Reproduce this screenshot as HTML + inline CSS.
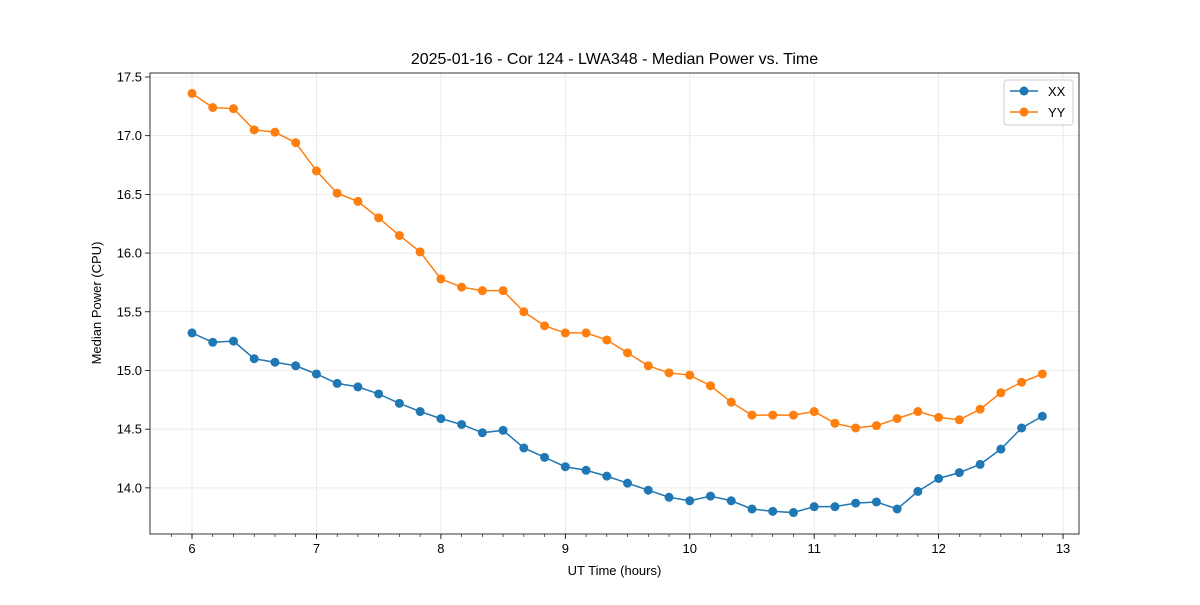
<!DOCTYPE html>
<html><head><meta charset="utf-8"><style>
body{margin:0;background:#fff;}
svg text{font-family:"Liberation Sans","DejaVu Sans",sans-serif;fill:#000;}
</style></head><body>
<svg id="chart" width="1200" height="600" xmlns="http://www.w3.org/2000/svg">
<rect width="1200" height="600" fill="#fff"/>
<text x="614.5" y="64" font-size="16" text-anchor="middle">2025-01-16 - Cor 124 - LWA348 - Median Power vs. Time</text>
<g id="grid"></g><g id="axes"></g><g id="series"></g>
<text x="614.5" y="575" font-size="13" text-anchor="middle">UT Time (hours)</text>
<text x="101" y="303" font-size="13" text-anchor="middle" transform="rotate(-90 101 303)">Median Power (CPU)</text>
<g>
<rect x="1004" y="80" width="69" height="45" rx="3" fill="#fff" stroke="#ccc"/>
<g><line x1="1010" y1="91" x2="1038" y2="91" stroke="#1f77b4" stroke-width="1.5"/><circle cx="1024" cy="91" r="4.5" fill="#1f77b4"/><text x="1048" y="96" font-size="13">XX</text></g>
<g><line x1="1010" y1="112" x2="1038" y2="112" stroke="#ff7f0e" stroke-width="1.5"/><circle cx="1024" cy="112" r="4.5" fill="#ff7f0e"/><text x="1048" y="117" font-size="13">YY</text></g>
</g>
</svg>
<script>
const xTicks=[6,7,8,9,10,11,12,13];
const yTicks=[14.0,14.5,15.0,15.5,16.0,16.5,17.0,17.5];
const xxValues=[15.32,15.24,15.25,15.10,15.07,15.04,14.97,14.89,14.86,14.80,14.72,14.65,14.59,14.54,14.47,14.49,14.34,14.26,14.18,14.15,14.10,14.04,13.98,13.92,13.89,13.93,13.89,13.82,13.80,13.79,13.84,13.84,13.87,13.88,13.82,13.97,14.08,14.13,14.20,14.33,14.51,14.61];
const yyValues=[17.36,17.24,17.23,17.05,17.03,16.94,16.70,16.51,16.44,16.30,16.15,16.01,15.78,15.71,15.68,15.68,15.50,15.38,15.32,15.32,15.26,15.15,15.04,14.98,14.96,14.87,14.73,14.62,14.62,14.62,14.65,14.55,14.51,14.53,14.59,14.65,14.60,14.58,14.67,14.81,14.90,14.97];
const times=xxValues.map((v,i)=>6+i/6);
const L=150,R=1079,T=73,B=534;
const x0=5.6625,x1=13.128,y0=13.607,y1=17.534;
const sx=v=>L+(v-x0)/(x1-x0)*(R-L);
const sy=v=>B-(v-y0)/(y1-y0)*(B-T);
const NS="http://www.w3.org/2000/svg";
function mk(tag,attrs,parent){const e=document.createElementNS(NS,tag);for(const k in attrs)e.setAttribute(k,attrs[k]);parent.appendChild(e);return e;}
const grid=document.getElementById('grid'),axes=document.getElementById('axes'),series=document.getElementById('series');
xTicks.forEach(t=>{const x=sx(t);
 const g=mk('line',{x1:x,x2:x,y1:T,y2:B,stroke:'#e6e6e6','stroke-width':0.8},grid);
 
 
 mk('line',{x1:x,x2:x,y1:B,y2:B+5,stroke:'#000','stroke-width':0.8},axes);
 const tx=mk('text',{x:x,y:B+19,'font-size':13,'text-anchor':'middle'},axes);tx.textContent=t;
 
 
});
for(let m=5.6667+1/6;m<13.13;m+=1/6){const x=sx(m);mk('line',{x1:x,x2:x,y1:B,y2:B+3,stroke:'#000','stroke-width':0.6},axes);}
yTicks.forEach(t=>{const y=sy(t);
 const g=mk('line',{x1:L,x2:R,y1:y,y2:y,stroke:'#e6e6e6','stroke-width':0.8},grid);
 
 
 mk('line',{x1:L-5,x2:L,y1:y,y2:y,stroke:'#000','stroke-width':0.8},axes);
 const tx=mk('text',{x:L-8,y:y+4.5,'font-size':13,'text-anchor':'end'},axes);tx.textContent=t.toFixed(1);
 
 
});
const frame=mk('rect',{x:L,y:T,width:R-L,height:B-T,fill:'none',stroke:'#000','stroke-width':0.8},axes);


function draw(vals,color,name){
 const p=mk('polyline',{points:vals.map((v,i)=>sx(times[i])+','+sy(v)).join(' '),fill:'none',stroke:color,'stroke-width':1.5},series);
 
 
 vals.forEach((v,i)=>{const c=mk('circle',{cx:sx(times[i]),cy:sy(v),r:4.5,fill:color},series);
  
  });
}
draw(xxValues,'#1f77b4','xx');
draw(yyValues,'#ff7f0e','yy');
</script>
</body></html>
